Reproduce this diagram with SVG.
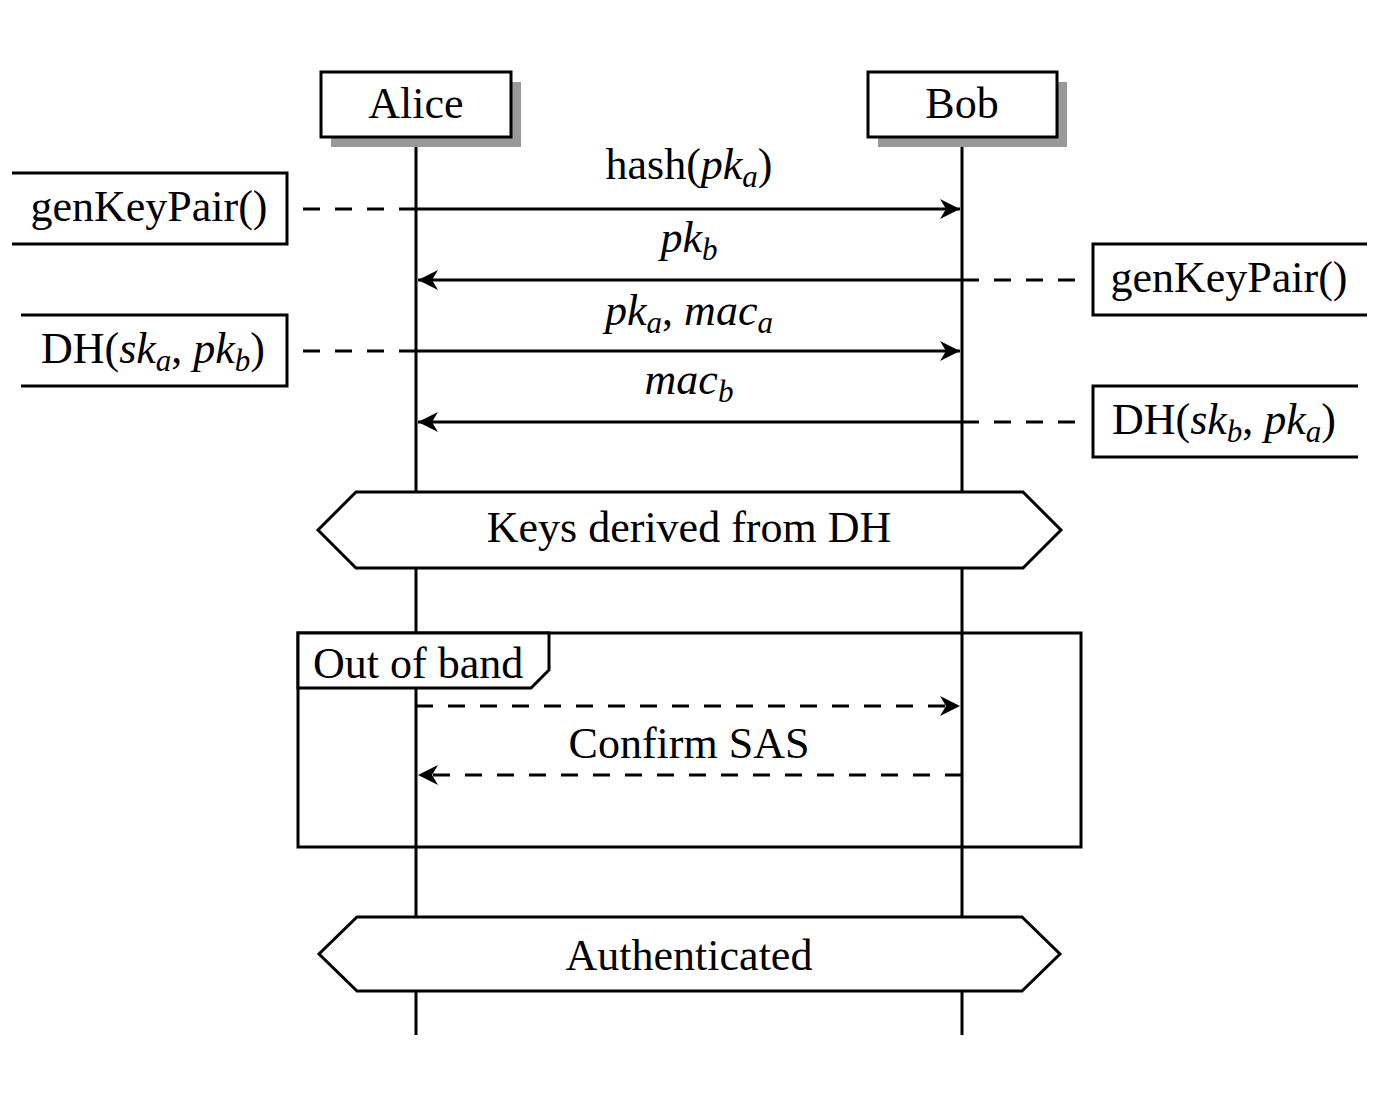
<svg xmlns="http://www.w3.org/2000/svg" width="1379" height="1095" viewBox="0 0 1379 1095">
<style>
text{font-family:"Liberation Serif","Times New Roman",serif;font-size:44px;fill:#000}
.m{font-style:italic}
.s{font-style:italic;font-size:31px}
.ln{stroke:#000;stroke-width:3;fill:none}
.box{stroke:#000;stroke-width:3;fill:#fff}
.dash{stroke:#000;stroke-width:3;fill:none;stroke-dasharray:17 15}
.shadow{fill:#999;stroke:none}
</style>
<defs>
<marker id="ah" markerUnits="userSpaceOnUse" markerWidth="24" markerHeight="24" viewBox="-22 -12 24 24" refX="0" refY="0" orient="auto">
<path d="M0,0 L-20,-10 L-14,0 L-20,10 Z" fill="#000"/>
</marker>
</defs>
<rect width="1379" height="1095" fill="#fff"/>
<g id="lifelines">
<line class="ln" x1="416" y1="137" x2="416" y2="1035"/>
<line class="ln" x1="962" y1="137" x2="962" y2="1035"/>
</g>
<g id="alice">
<rect class="shadow" x="331" y="82" width="190" height="65"/>
<rect class="box" x="321" y="72" width="190" height="65"/>
<text x="416" y="118" text-anchor="middle">Alice</text>
</g>
<g id="bob">
<rect class="shadow" x="878" y="82" width="189" height="65"/>
<rect class="box" x="868" y="72" width="189" height="65"/>
<text x="962" y="118" text-anchor="middle">Bob</text>
</g>
<g id="genKeyPairA">
<path class="ln" d="M12,173 H287 V244 H12"/>
<text x="149" y="221" text-anchor="middle">genKeyPair()</text>
</g>
<g id="genKeyPairB">
<path class="ln" d="M1367,244 H1093 V315 H1367"/>
<text x="1229" y="292" text-anchor="middle">genKeyPair()</text>
</g>
<g id="dhA">
<path class="ln" d="M21,315 H287 V386 H21"/>
<text x="153" y="363" text-anchor="middle">DH(<tspan class="m">sk</tspan><tspan class="s" dy="8">a</tspan><tspan dy="-8">, </tspan><tspan class="m">pk</tspan><tspan class="s" dy="8">b</tspan><tspan dy="-8">)</tspan></text>
</g>
<g id="dhB">
<path class="ln" d="M1358,386 H1093 V457 H1358"/>
<text x="1224" y="434" text-anchor="middle">DH(<tspan class="m">sk</tspan><tspan class="s" dy="8">b</tspan><tspan dy="-8">, </tspan><tspan class="m">pk</tspan><tspan class="s" dy="8">a</tspan><tspan dy="-8">)</tspan></text>
</g>
<g id="connectors">
<line class="dash" x1="416" y1="209" x2="298" y2="209"/>
<line class="dash" x1="962" y1="280" x2="1080" y2="280"/>
<line class="dash" x1="416" y1="351" x2="298" y2="351"/>
<line class="dash" x1="962" y1="422" x2="1080" y2="422"/>
<line class="ln" x1="416" y1="209" x2="960" y2="209" marker-end="url(#ah)"/>
<line class="ln" x1="962" y1="280" x2="418" y2="280" marker-end="url(#ah)"/>
<line class="ln" x1="416" y1="351" x2="960" y2="351" marker-end="url(#ah)"/>
<line class="ln" x1="962" y1="422" x2="418" y2="422" marker-end="url(#ah)"/>
<line class="dash" x1="416" y1="706" x2="960" y2="706" marker-end="url(#ah)"/>
<line class="dash" x1="962" y1="775" x2="418" y2="775" marker-end="url(#ah)"/>
</g>
<g id="labels">
<text x="689" y="179" text-anchor="middle">hash(<tspan class="m">pk</tspan><tspan class="s" dy="8">a</tspan><tspan dy="-8">)</tspan></text>
<text x="689" y="252" text-anchor="middle"><tspan class="m">pk</tspan><tspan class="s" dy="8">b</tspan></text>
<text x="689" y="325" text-anchor="middle"><tspan class="m">pk</tspan><tspan class="s" dy="8">a</tspan><tspan dy="-8">, </tspan><tspan class="m">mac</tspan><tspan class="s" dy="8">a</tspan></text>
<text x="689" y="394" text-anchor="middle"><tspan class="m">mac</tspan><tspan class="s" dy="8">b</tspan></text>
<text x="689" y="758" text-anchor="middle">Confirm SAS</text>
</g>
<g id="keysDerived">
<path class="box" d="M356,492 H1023 L1061,530 L1023,568 H356 L318,530 Z"/>
<text x="689" y="542" text-anchor="middle">Keys derived from DH</text>
</g>
<g id="outOfBand">
<rect class="ln" x="298" y="633" width="783" height="214"/>
<path class="box" d="M298,633 H549 V670 L531,688 H298 Z"/>
<text x="313" y="678">Out of band</text>
</g>
<g id="authenticated">
<path class="box" d="M357,917 H1022 L1060,954 L1022,991 H357 L319,954 Z"/>
<text x="689" y="970" text-anchor="middle">Authenticated</text>
</g>
</svg>
